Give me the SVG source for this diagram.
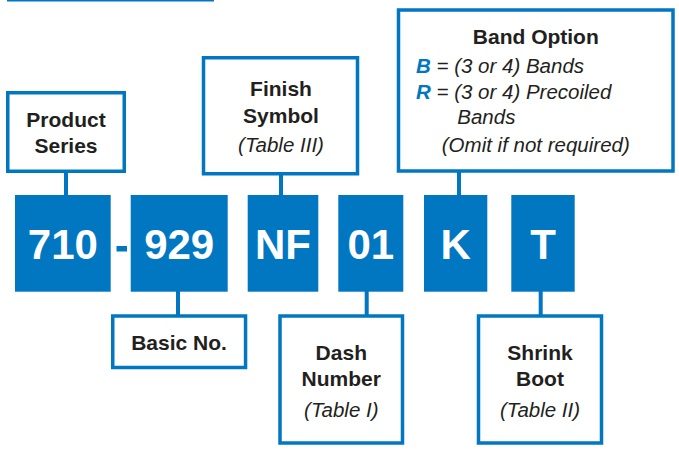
<svg xmlns="http://www.w3.org/2000/svg" width="679" height="455" viewBox="0 0 679 455">
<style>
.box{fill:#fff;stroke:#0077c0;stroke-width:3.5}
.blk{fill:#0077c0}
.lbl{font-family:"Liberation Sans",Arial,sans-serif;font-weight:bold;font-size:21px;fill:#231f20;text-anchor:middle}
.it{font-family:"Liberation Sans",Arial,sans-serif;font-style:italic;font-size:20.5px;fill:#231f20}
.code{font-family:"Liberation Sans",Arial,sans-serif;font-weight:bold;font-size:42px;fill:#fff;text-anchor:middle}
.key{font-weight:bold;fill:#0077c0}
.conn line{stroke:#0077c0;stroke-width:4}
</style>
<rect x="7" y="0" width="207" height="1.5" fill="#0077c0"/>
<g class="conn">
<line x1="66" y1="172" x2="66" y2="196"/>
<line x1="281" y1="174" x2="281" y2="196"/>
<line x1="459" y1="171" x2="459" y2="196"/>
<line x1="178" y1="291" x2="178" y2="316"/>
<line x1="366.7" y1="291" x2="366.7" y2="316"/>
<line x1="540.7" y1="291" x2="540.7" y2="316"/>
</g>
<g id="product-series">
<rect class="box" x="7.75" y="92.75" width="116.5" height="78.5"/>
<text class="lbl" x="66" y="127">Product</text>
<text class="lbl" x="66" y="153">Series</text>
</g>
<g id="finish-symbol">
<rect class="box" x="203.5" y="57.75" width="154" height="116"/>
<text class="lbl" x="281" y="96">Finish</text>
<text class="lbl" x="281" y="123.3">Symbol</text>
<text class="it" x="281" y="151.7" text-anchor="middle">(Table III)</text>
</g>
<g id="band-option">
<rect class="box" x="398.5" y="10" width="274.5" height="161"/>
<text class="lbl" x="535.8" y="44">Band Option</text>
<text class="it" x="416" y="72.7"><tspan class="key">B</tspan> = (3 or 4) Bands</text>
<text class="it" x="416" y="99.3"><tspan class="key">R</tspan> = (3 or 4) Precoiled</text>
<text class="it" x="457.3" y="124">Bands</text>
<text class="it" x="535.8" y="151.7" text-anchor="middle">(Omit if not required)</text>
</g>
<g id="code-710">
<rect class="blk" x="15" y="195" width="95.7" height="96.7"/>
<text class="code" x="62.9" y="259.3">710</text>
</g>
<rect id="dash" class="blk" x="116.5" y="246" width="10.5" height="5.5"/>
<g id="code-929">
<rect class="blk" x="130.7" y="195" width="97" height="96.7"/>
<text class="code" x="179.2" y="259.3">929</text>
</g>
<g id="code-nf">
<rect class="blk" x="247.7" y="195" width="70.6" height="96.7"/>
<text class="code" x="283" y="259.3">NF</text>
</g>
<g id="code-01">
<rect class="blk" x="338.3" y="195" width="65" height="96.7"/>
<text class="code" x="370.8" y="259.3">01</text>
</g>
<g id="code-k">
<rect class="blk" x="424" y="195" width="63.3" height="96.7"/>
<text class="code" x="455.7" y="259.3">K</text>
</g>
<g id="code-t">
<rect class="blk" x="511.3" y="195" width="63.4" height="96.7"/>
<text class="code" x="543" y="259.3">T</text>
</g>
<g id="basic-no">
<rect class="box" x="112.75" y="316" width="132.8" height="51.5"/>
<text class="lbl" x="179" y="350">Basic No.</text>
</g>
<g id="dash-number">
<rect class="box" x="280" y="316" width="122.5" height="127"/>
<text class="lbl" x="341.3" y="360">Dash</text>
<text class="lbl" x="341.3" y="385.7">Number</text>
<text class="it" x="341.3" y="416.7" text-anchor="middle">(Table I)</text>
</g>
<g id="shrink-boot">
<rect class="box" x="478.5" y="316" width="123" height="127"/>
<text class="lbl" x="540" y="360">Shrink</text>
<text class="lbl" x="540" y="385.7">Boot</text>
<text class="it" x="540" y="416.7" text-anchor="middle">(Table II)</text>
</g>
</svg>
